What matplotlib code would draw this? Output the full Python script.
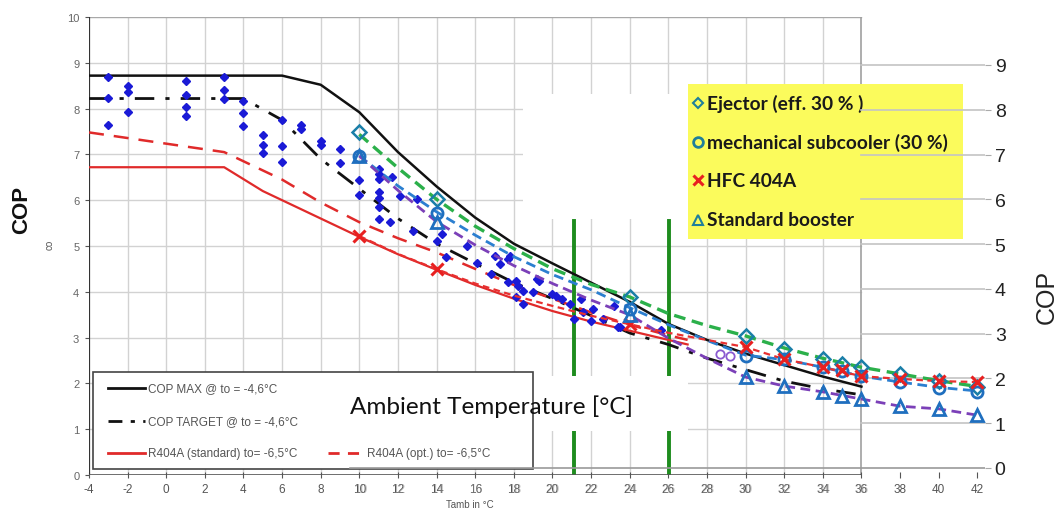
import matplotlib
matplotlib.use("Agg")
import matplotlib.pyplot as plt
from matplotlib.patches import Rectangle
import matplotlib.transforms as mtrans

# ---------------- data (left chart, left-axis units) ----------------
cop_max_x = [-4, 6, 8, 10, 12, 14, 16, 18, 20, 22, 24, 26, 28, 30, 32, 34, 36]
cop_max_y = [8.72, 8.72, 8.52, 7.92, 7.05, 6.3, 5.62, 5.05, 4.62, 4.2, 3.78, 3.3, 2.95, 2.65, 2.4, 2.15, 1.93]

cop_target_x = [-4, 4, 6, 8, 10, 12, 14, 16, 18, 20, 22, 24, 26, 28, 30, 32, 34, 36]
cop_target_y = [8.22, 8.22, 7.75, 6.9, 6.25, 5.6, 5.05, 4.62, 4.2, 3.85, 3.48, 3.1, 2.85, 2.55, 2.3, 2.05, 1.88, 1.75]

r404a_std_x = [-4, 3, 5, 6, 8, 10, 12, 14, 16, 18, 20, 22, 24, 26, 27]
r404a_std_y = [6.72, 6.72, 6.2, 6.0, 5.6, 5.2, 4.82, 4.48, 4.15, 3.85, 3.58, 3.35, 3.15, 2.95, 2.85]

r404a_opt_x = [-4, 3, 6, 8, 10, 12, 14, 16, 18, 20, 22, 24, 26, 27]
r404a_opt_y = [7.48, 7.05, 6.45, 5.95, 5.52, 5.17, 4.86, 4.5, 4.15, 3.85, 3.55, 3.28, 3.05, 2.95]

meas_x = [-3, -3, -3, -2, -2, -2, 1, 1, 1, 1, 3, 3, 3, 4, 4, 4, 5, 5, 5, 6, 6, 6,
          7, 7, 8, 8, 9, 9, 10, 10, 11, 11, 11, 11, 11, 11, 11, 11.7, 11.6, 12.1,
          12.8, 13.0, 14.0, 14.3, 14.5, 15.6, 16.1, 16.8, 17.0, 17.3, 17.7, 17.8, 17.7,
          18.1, 18.2, 18.5, 18.5, 18.1, 19.0, 19.2, 19.3, 20.0, 20.2, 20.5, 20.9, 21.1,
          21.5, 21.6, 22.0, 22.1, 22.6, 23.2, 23.4, 23.5, 25.6]
meas_y = [8.69, 8.23, 7.64, 8.49, 8.37, 7.93, 8.6, 8.3, 8.03, 7.83, 8.7, 8.41, 8.2,
          8.17, 7.9, 7.61, 7.42, 7.21, 7.03, 7.75, 7.18, 6.83, 7.64, 7.55, 7.3, 7.21,
          7.12, 6.81, 6.44, 6.12, 6.68, 6.57, 6.46, 6.18, 6.05, 5.85, 5.59, 6.5, 5.52, 6.09,
          5.33, 6.03, 5.11, 5.26, 4.76, 5.0, 4.63, 4.39, 4.78, 4.61, 4.21, 4.78, 4.72,
          4.24, 4.13, 4.02, 3.73, 3.89, 4.0, 4.28, 4.24, 3.95, 3.91, 3.84, 3.73, 3.4,
          3.84, 3.55, 3.36, 3.62, 3.4, 3.69, 3.23, 3.23, 3.17]

# ---------------- data (right chart, right-axis units) ----------------
line_x = [10, 12, 14, 16, 18, 20, 22, 24, 26, 28, 30, 32, 34, 36, 38, 40, 42]
ejector_line = [7.45, 6.7, 6.0, 5.4, 4.9, 4.45, 4.1, 3.82, 3.45, 3.18, 2.95, 2.68, 2.45, 2.25, 2.1, 1.95, 1.82]
subcooler_line = [6.97, 6.3, 5.72, 5.2, 4.72, 4.32, 3.98, 3.58, 3.2, 2.85, 2.52, 2.42, 2.25, 2.05, 1.92, 1.8, 1.72]
hfc_line = [5.18, 4.78, 4.44, 4.12, 3.85, 3.62, 3.4, 3.21, 3.02, 2.86, 2.7, 2.43, 2.25, 2.05, 1.99, 1.94, 1.92]
booster_line = [6.97, 6.2, 5.5, 4.98, 4.52, 4.12, 3.75, 3.42, 2.9, 2.45, 2.03, 1.83, 1.7, 1.54, 1.38, 1.32, 1.18]

mk_x = [10, 14, 24, 30, 32, 34, 35, 36, 38, 40, 42]
ejector_mk = [7.5, 6.0, 3.82, 2.95, 2.66, 2.43, 2.32, 2.25, 2.1, 1.95, 1.8]
subcooler_mk = [6.97, 5.7, 3.55, 2.5, 2.43, 2.25, 2.17, 2.05, 1.92, 1.79, 1.7]
hfc_mk = [5.18, 4.44, 3.21, 2.7, 2.43, 2.25, 2.19, 2.05, 1.99, 1.94, 1.92]
booster_mk = [6.97, 5.5, 3.42, 2.03, 1.83, 1.7, 1.61, 1.54, 1.38, 1.32, 1.18]

extra_x = [28.7, 29.2]
extra_y = [2.55, 2.5]

vlines_x = [21.1, 26.05]

left_ticks_x = list(range(-4, 37, 2))
right_ticks_x = [38, 40, 42]
left_ticks_y = list(range(0, 11))
right_ticks_y = list(range(0, 10))

legend_left = ["COP MAX @ to = -4,6°C", "COP TARGET @ to = -4,6°C",
               "R404A (standard) to= -6,5°C", "R404A (opt.) to= -6,5°C"]
legend_right = ["Ejector (eff. 30 % )", "mechanical subcooler (30 %)", "HFC 404A", "Standard booster"]

# ---------------- figure ----------------
W, H = 1057, 510
fig = plt.figure(figsize=(W / 100, H / 100), dpi=100)
ax = fig.add_axes([89 / W, (H - 476) / H, (985 - 89) / W, (476 - 18) / H])
ax.set_xlim(-4, 42.4)
ax.set_ylim(0, 10)
for s in ax.spines.values():
    s.set_visible(False)

GRID = "#d2d2d2"
for xv in range(-2, 36, 2):
    ax.plot([xv, xv], [0, 10], color=GRID, lw=1.0, zorder=0.5)
for yv in range(1, 10):
    ax.plot([-4, 36], [yv, yv], color=GRID, lw=1.0, zorder=0.5)
ax.plot([-4, 36], [10, 10], color="#a8a8a8", lw=1.0, zorder=0.6)
ax.plot([36, 36], [0, 10], color="#a0a0a0", lw=1.2, zorder=0.6)
ax.plot([-4, -4], [0, 10], color="#333333", lw=1.6, zorder=3)
ax.plot([-4, 36], [0, 0], color="#555555", lw=1.2, zorder=3)

# right axis mapping: right 0 at left 0.153, right 9 at left 8.952
k = 9 / (8.952 - 0.153)
ax2 = ax.twinx()
ax2.set_ylim((0 - 0.153) * k, (10 - 0.153) * k)
for s in ax2.spines.values():
    s.set_visible(False)
for yv in range(1, 10):
    ax2.plot([36, 42.4], [yv, yv], color="#c4c4c4", lw=1.2, zorder=0.5)
ax2.plot([9.5, 42.4], [0, 0], color="#9a9a9a", lw=1.2, zorder=0.5)

# white patches (image composition)
ax.add_patch(Rectangle((18.5, 5.6), 8.5, 2.72, facecolor="white", edgecolor="none", zorder=1))

for xv in vlines_x:
    ax.plot([xv, xv], [0, 5.55], color="#1e8c1e", lw=2.8, zorder=2)
ax.add_patch(Rectangle((19.0, 0.96), 8.0, 1.2, facecolor="white", edgecolor="none", zorder=2.5))

# left chart lines
ax.plot(cop_max_x, cop_max_y, color="#111111", lw=1.8, zorder=4)
ax.plot(cop_target_x, cop_target_y, color="#111111", lw=2.0, dashes=[7, 4, 1.5, 4], zorder=4)
ax.plot(r404a_std_x, r404a_std_y, color="#e02a2a", lw=1.6, zorder=4)
ax.plot(r404a_opt_x, r404a_opt_y, color="#e02a2a", lw=1.8, dashes=[6, 4], zorder=4)
ax.plot(meas_x, meas_y, linestyle="none", marker="D", markersize=4.0,
        color="#1a1ad6", markeredgecolor="#1a1ad6", zorder=5)

# right chart series
ax2.plot(line_x, ejector_line, color="#2bb04a", lw=2.4, dashes=[3.5, 2], zorder=4)
ax2.plot(line_x, subcooler_line, color="#2b7fd0", lw=2.0, dashes=[3.5, 2], zorder=4)
ax2.plot(line_x, hfc_line, color="#e83030", lw=1.6, dashes=[3, 2], zorder=4)
ax2.plot(line_x, booster_line, color="#7b40b8", lw=2.0, dashes=[3.5, 2], zorder=4)
ax2.plot(mk_x, ejector_mk, linestyle="none", marker="D", markersize=7,
         markerfacecolor="none", markeredgecolor="#1a7fa8", markeredgewidth=1.8, zorder=5)
ax2.plot(mk_x, subcooler_mk, linestyle="none", marker="o", markersize=8,
         markerfacecolor="none", markeredgecolor="#1f6fbf", markeredgewidth=2.0, zorder=5)
ax2.plot(mk_x, hfc_mk, linestyle="none", marker="x", markersize=8,
         color="#e82020", markeredgewidth=2.2, zorder=5)
ax2.plot(mk_x, booster_mk, linestyle="none", marker="^", markersize=9,
         markerfacecolor="none", markeredgecolor="#1f6fbf", markeredgewidth=2.0, zorder=5)
ax2.plot(extra_x, extra_y, linestyle="none", marker="o", markersize=6,
         markerfacecolor="none", markeredgecolor="#8a5ad0", markeredgewidth=1.3, zorder=5)

# ticks
ax.set_xticks(left_ticks_x + right_ticks_x)
ax.set_xticklabels([str(v) for v in left_ticks_x + right_ticks_x])
ax.tick_params(axis="x", direction="inout", length=5, color="#555555", labelsize=8.5,
               labelcolor="#555555", pad=3)
ax.set_yticks(left_ticks_y)
ax.set_yticklabels([str(v) for v in left_ticks_y])
ax.tick_params(axis="y", direction="out", length=3, color="#555555", labelsize=8,
               labelcolor="#666666", pad=4)
ax2.set_yticks(right_ticks_y)
ax2.set_yticklabels([str(v) for v in right_ticks_y])
ax2.tick_params(axis="y", direction="out", length=4, color="#aaaaaa", labelsize=14,
                labelcolor="#222222", pad=3)
for lab in ax.get_xticklabels() + ax.get_yticklabels() + ax2.get_yticklabels():
    lab.set_fontfamily("Liberation Sans")

# ghost tick labels (overlapping charts)
for v in range(10, 37, 2):
    ax.annotate(str(v), xy=(v, 0), xycoords=("data", "axes fraction"),
                xytext=(0.6, -6.0), textcoords="offset points", ha="center", va="top",
                fontsize=8.5, color="#8a8a8a", alpha=0.55, family="Liberation Sans")

# left legend box
ax.add_patch(Rectangle((-3.78, 0.13), 22.78, 2.12, facecolor="white", edgecolor="#444444",
                       lw=1.2, zorder=6))
rows = [1.9, 1.18, 0.48]
ax.plot([-3.0, -1.1], [rows[0]] * 2, color="#111111", lw=2.0, zorder=7)
ax.plot([-3.0, -1.1], [rows[1]] * 2, color="#111111", lw=2.0, dashes=[5, 3, 1.5, 3], zorder=7)
ax.plot([-3.0, -1.1], [rows[2]] * 2, color="#e02a2a", lw=2.0, zorder=7)
ax.plot([8.4, 10.1], [rows[2]] * 2, color="#e02a2a", lw=2.0, dashes=[4, 3], zorder=7)
for y, t in zip(rows, legend_left[:3]):
    ax.text(-0.93, y, t, fontsize=8.5, color="#555555", va="center", ha="left",
            family="Liberation Sans", zorder=7)
ax.text(10.4, rows[2], legend_left[3], fontsize=8.5, color="#555555", va="center", ha="left",
        family="Liberation Sans", zorder=7)

# ambient temperature label
ax.text(9.5, 1.52, "Ambient Temperature [°C]", fontsize=17.5, color="#111111",
        va="center", ha="left", family="Lato", zorder=8)

# yellow legend box
ax.add_patch(Rectangle((27.0, 5.15), 14.24, 3.39, facecolor="#fbfb5c", edgecolor="none", zorder=6))
yrows = [8.12, 7.27, 6.44, 5.57]
mk_styles = [dict(marker="D", markersize=5, markerfacecolor="none", markeredgecolor="#1f7f9a", markeredgewidth=1.5),
             dict(marker="o", markersize=7, markerfacecolor="none", markeredgecolor="#1f7f9a", markeredgewidth=2.0),
             dict(marker="x", markersize=7, color="#e82020", markeredgewidth=2.2),
             dict(marker="^", markersize=7, markerfacecolor="none", markeredgecolor="#1f7f9a", markeredgewidth=1.5)]
for y, t, st in zip(yrows, legend_right, mk_styles):
    ax.plot([27.55], [y], linestyle="none", zorder=7, **st)
    ax.text(28.0, y, t, fontsize=13.8, fontweight="bold", color="#1a1a1a", va="center",
            ha="left", family="Lato", zorder=7)

# axis labels
fig.text(22 / W, 1 - 210 / H, "COP", rotation=90, fontsize=16, fontweight="bold",
         family="Liberation Sans", ha="center", va="center", color="#111111")
fig.text(50 / W, 1 - 245 / H, "co", rotation=90, fontsize=7, family="Liberation Sans",
         ha="center", va="center", color="#555555")
fig.text(1047 / W, 1 - 297 / H, "COP", rotation=90, fontsize=18, family="Liberation Sans",
         ha="center", va="center", color="#222222")
fig.text(470 / W, 1 - 505 / H, "Tamb in °C", fontsize=7, family="Liberation Sans",
         ha="center", va="center", color="#555555")

fig.savefig("out.png", dpi=100)
